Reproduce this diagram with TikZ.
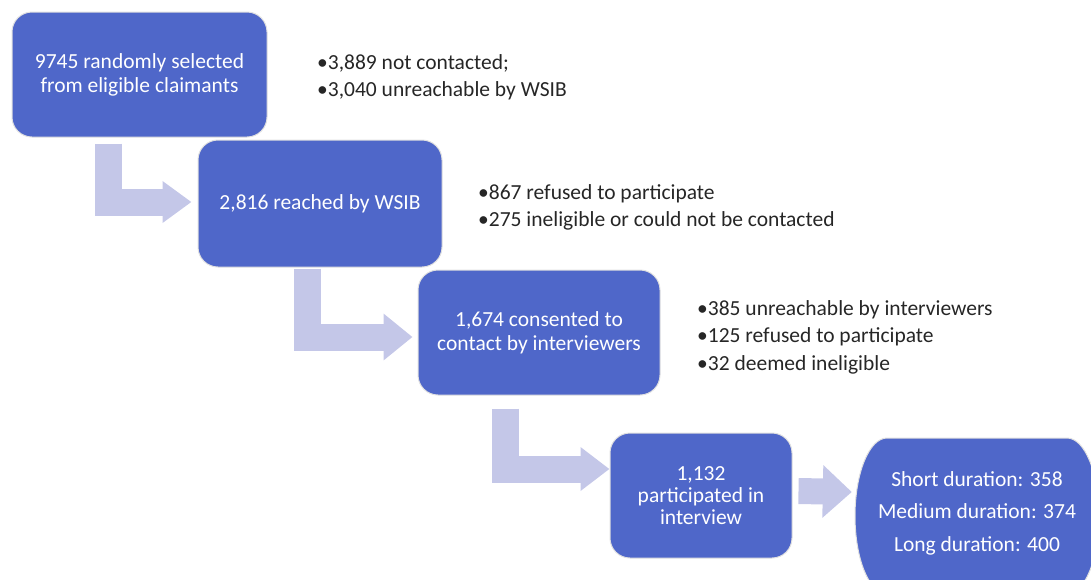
\documentclass[tikz,border=0pt]{standalone}
\usepackage{fontspec}
\setmainfont{Carlito}
\usetikzlibrary{arrows.meta}
\definecolor{boxblue}{RGB}{79,103,201}
\definecolor{arrowlilac}{RGB}{196,199,232}
\definecolor{notegray}{RGB}{38,38,38}

\begin{document}
\begin{tikzpicture}[x=1pt,y=-1pt,
	stage/.style={fill=boxblue,draw=black!12,line width=1pt,rounded corners=20pt,
		text=white,align=center,inner sep=0pt,font=\fontsize{21.5}{24}\selectfont},
	note/.style={anchor=west,align=left,text=notegray,inner sep=0pt,
		font=\fontsize{21.5}{27.5}\selectfont},
	flow/.style={draw=arrowlilac,line width=27pt,-{Triangle[width=#1,length=29pt]}},
	flow/.default=43pt]
			\clip (0,0) rectangle (1091,579);
			\node[stage,minimum width=255pt,minimum height=125pt] (box1) at (139.5,74.5)
				{9745 randomly selected\\from eligible claimants};
			\node[stage,minimum width=244pt,minimum height=127pt] (box2) at (320,203.5)
				{2,816 reached by WSIB};
			\node[stage,minimum width=242pt,minimum height=125pt] (box3) at (539,332.5)
				{1,674 consented to\\contact by interviewers};
			\node[stage,minimum width=182pt,minimum height=125pt,
				font=\fontsize{21.5}{22}\selectfont] (box4) at (701,495.5)
				{1,132\\participated in\\interview};
			\fill[boxblue,draw=black!12,line width=1pt] (887,438) -- (1067,438)
				arc[start angle=-90,end angle=90,x radius=32,y radius=78] -- (887,594)
				arc[start angle=90,end angle=270,x radius=32,y radius=78] -- cycle;
			\node[text=white,align=center,inner sep=0pt,minimum width=244pt,minimum height=156pt,
				font=\fontsize{21.5}{32.5}\selectfont] (box5) at (977,513)
				{Short duration: 358\\Medium duration: 374\\Long duration: 400};
			\node[note] (note1) at (317,77.5) {•3,889 not contacted;\\•3,040 unreachable by WSIB};
			\node[note] (note2) at (478,207.5) {•867 refused to participate\\•275 ineligible or could not be contacted};
			\node[note] (note3) at (697,337) {•385 unreachable by interviewers\\•125 refused to participate\\•32 deemed ineligible};
			\draw[flow=40pt] ([xshift=-31pt,yshift=-6pt]box1.south) |- ([xshift=-6pt,yshift=1.5pt]box2.west);
			\draw[flow=45pt] ([xshift=-13pt,yshift=-1pt]box2.south) |- ([xshift=-5pt,yshift=-4.5pt]box3.west);
			\draw[flow=42pt] ([xshift=-34pt,yshift=-13pt]box3.south) |- ([yshift=26.5pt]box4.west);
			\draw[flow=51pt,line width=26pt] ([xshift=6pt,yshift=4.5pt]box4.east) -- ([xshift=-3pt,yshift=21pt]box5.west);
		\end{tikzpicture}
\end{document}
